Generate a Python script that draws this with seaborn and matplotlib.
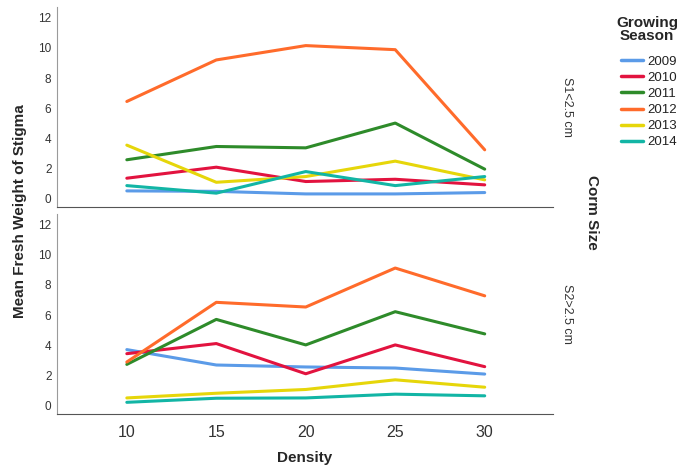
import matplotlib
matplotlib.use("Agg")
import matplotlib.pyplot as plt
import seaborn as sns
import pandas as pd

density = [10, 15, 20, 25, 30]
seasons = ["2009", "2010", "2011", "2012", "2013", "2014"]
colors = ["#5B9BE8", "#E2133F", "#2E8B2A", "#FF6B2B", "#E6D60A", "#12B5A5"]

# corm size S1 < 2.5 cm
s1_2009 = [0.53, 0.50, 0.33, 0.33, 0.42]
s1_2010 = [1.37, 2.10, 1.15, 1.30, 0.93]
s1_2011 = [2.59, 3.47, 3.38, 5.02, 1.97]
s1_2012 = [6.45, 9.20, 10.15, 9.88, 3.25]
s1_2013 = [3.56, 1.10, 1.48, 2.50, 1.26]
s1_2014 = [0.88, 0.38, 1.81, 0.88, 1.48]

# corm size S2 > 2.5 cm
s2_2009 = [3.71, 2.69, 2.56, 2.49, 2.09]
s2_2010 = [3.44, 4.11, 2.11, 4.02, 2.58]
s2_2011 = [2.73, 5.71, 4.02, 6.22, 4.75]
s2_2012 = [2.89, 6.84, 6.53, 9.11, 7.27]
s2_2013 = [0.51, 0.82, 1.07, 1.71, 1.22]
s2_2014 = [0.22, 0.49, 0.51, 0.76, 0.65]

s1 = [s1_2009, s1_2010, s1_2011, s1_2012, s1_2013, s1_2014]
s2 = [s2_2009, s2_2010, s2_2011, s2_2012, s2_2013, s2_2014]


def to_frame(series):
    rows = []
    for season, vals in zip(seasons, series):
        for d, v in zip(density, vals):
            rows.append({"Density": d, "Season": season, "Weight": v})
    return pd.DataFrame(rows)


sns.set_style("white")
plt.rcParams["font.family"] = ["Liberation Sans", "DejaVu Sans"]

fig = plt.figure(figsize=(6.79, 4.72), dpi=100)
ax1 = fig.add_axes([0.084, 0.561, 0.730, 0.424])
ax2 = fig.add_axes([0.084, 0.123, 0.730, 0.424])

pal = dict(zip(seasons, colors))
for ax, series in [(ax1, s1), (ax2, s2)]:
    sns.lineplot(data=to_frame(series), x="Density", y="Weight", hue="Season",
                 palette=pal, linewidth=2.2, ax=ax, legend=(ax is ax1))
    ax.set_xlim(6.1, 33.8)
    ax.set_ylim(-0.55, 12.7)
    ax.set_yticks([0, 2, 4, 6, 8, 10, 12])
    ax.set_xticks(density)
    ax.set_xlabel("")
    ax.set_ylabel("")
    for side in ["top", "right"]:
        ax.spines[side].set_visible(False)
    ax.spines["left"].set_color("#9a9a9a")
    ax.spines["bottom"].set_color("#555555")
    ax.tick_params(axis="y", labelsize=8.5, length=0, pad=4, colors="#333333")
    ax.tick_params(axis="x", labelsize=11.5, length=0, pad=8, colors="#333333")

ax1.tick_params(axis="x", labelbottom=False)

# legend entries, title drawn separately to get the wider gap
handles, labels = ax1.get_legend_handles_labels()
ax1.get_legend().remove()
leg = fig.legend(handles, labels, loc="upper left", bbox_to_anchor=(0.9146, 0.882),
                 bbox_transform=fig.transFigure, frameon=False, fontsize=9.5,
                 handlelength=1.67, handletextpad=0.3, labelspacing=0.29,
                 borderpad=0, borderaxespad=0)
for line in leg.get_lines():
    line.set_linewidth(2.5)
for t in leg.get_texts():
    t.set_color("#222222")

fig.text(0.953, 0.938, "Growing\nSeason", ha="center", va="center", fontsize=11,
         fontweight="bold", linespacing=0.95)
fig.text(0.835, 0.773, "S1<2.5 cm", rotation=-90, ha="center", va="center", fontsize=9, color="#333333")
fig.text(0.835, 0.335, "S2>2.5 cm", rotation=-90, ha="center", va="center", fontsize=9, color="#333333")
fig.text(0.872, 0.551, "Corm Size", rotation=-90, ha="center", va="center", fontsize=11, fontweight="bold")
fig.text(0.029, 0.553, "Mean Fresh Weight of Stigma", rotation=90, ha="center", va="center",
         fontsize=11, fontweight="bold")
fig.text(0.449, 0.03, "Density", ha="center", va="center", fontsize=11, fontweight="bold")

fig.savefig("out.png", dpi=100)
